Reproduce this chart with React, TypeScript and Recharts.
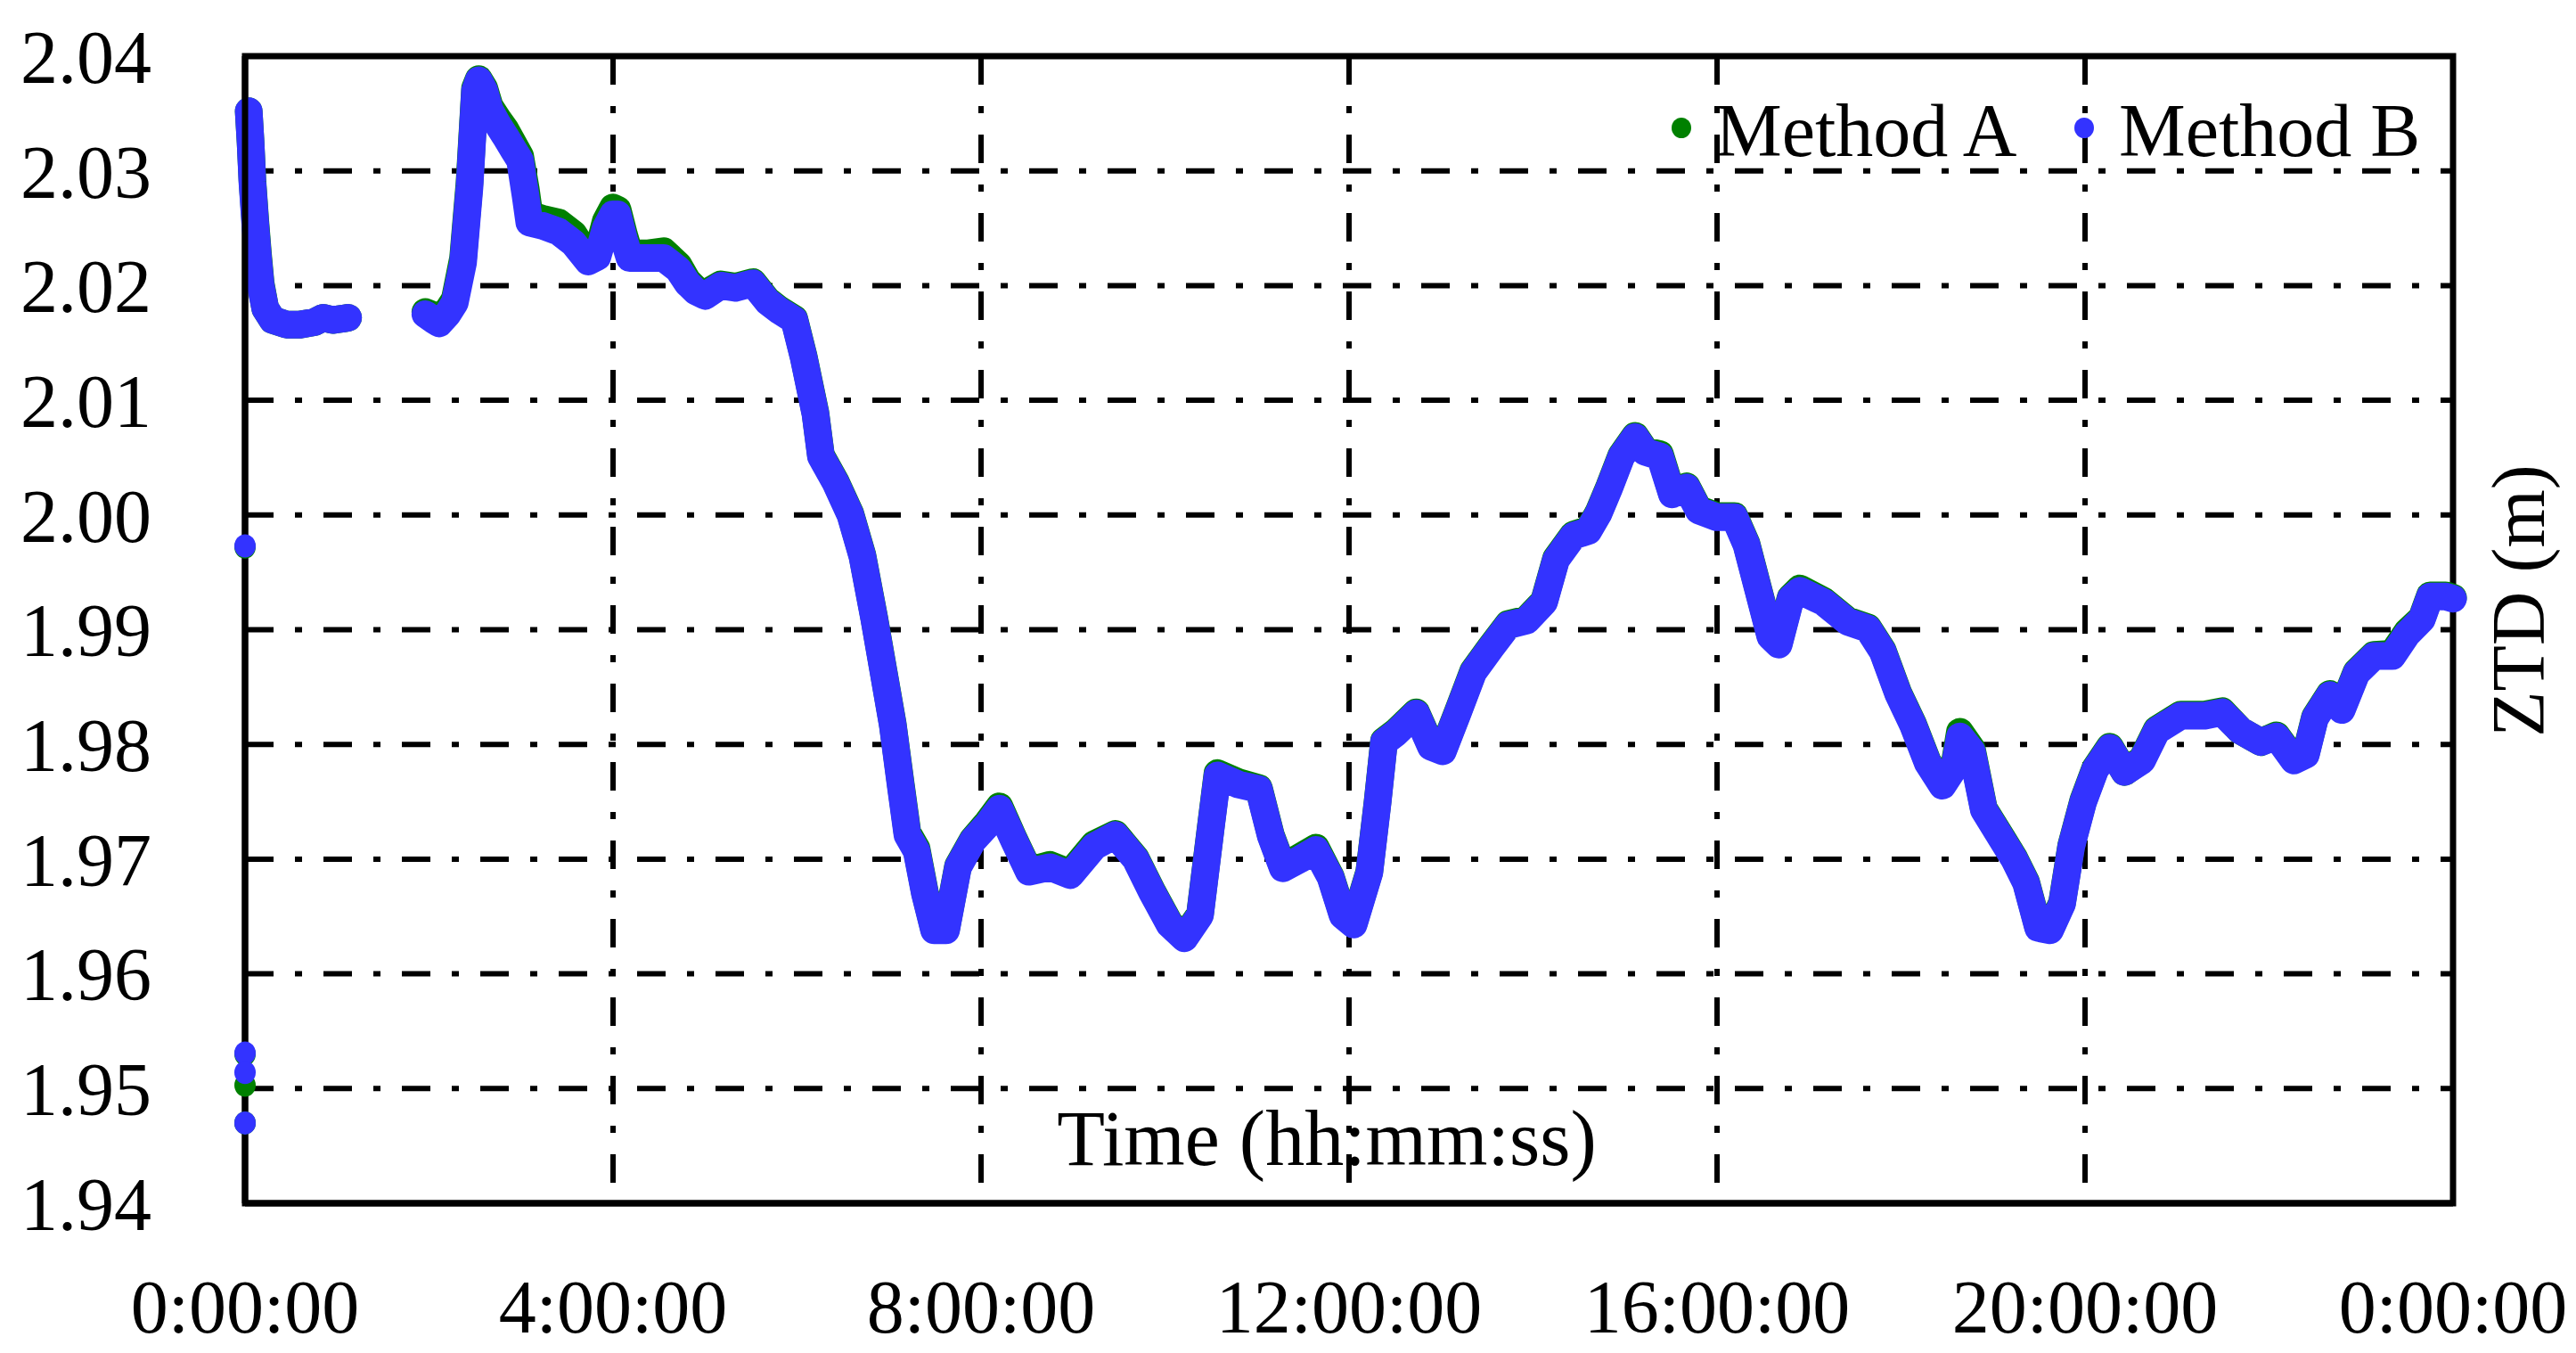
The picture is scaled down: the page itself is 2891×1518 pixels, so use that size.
import React from 'react';
import {
  ComposedChart,
  Line,
  Scatter,
  XAxis,
  YAxis,
  CartesianGrid,
  ReferenceArea,
  Legend,
  Customized,
} from 'recharts';

// time of day in hours, null rows mark the data gap
const hours = [
  0.04, 0.06, 0.08, 0.11, 0.14, 0.17, 0.22, 0.3, 0.45, 0.6, 0.75, 0.85, 0.95, 1.05, 1.12,
  1.5,
  1.96, 2.05, 2.11, 2.2, 2.28, 2.37, 2.44, 2.5, 2.54, 2.6, 2.66, 2.75, 2.83, 2.92, 2.99,
  3.05, 3.09, 3.24, 3.41, 3.57, 3.73, 3.83, 3.92, 4.0, 4.05, 4.12, 4.18, 4.37, 4.55, 4.71,
  4.81, 4.9, 5.0, 5.17, 5.33, 5.52, 5.68, 5.81, 5.97, 6.07, 6.2, 6.26, 6.42, 6.58, 6.71,
  6.84, 6.94, 7.04, 7.13, 7.2, 7.3, 7.39, 7.49, 7.62, 7.75, 7.91, 8.07, 8.2, 8.36, 8.52,
  8.75, 8.97, 9.23, 9.46, 9.68, 9.86, 10.05, 10.21, 10.38, 10.5, 10.57, 10.8, 11.02, 11.15,
  11.28, 11.47, 11.64, 11.8, 11.93, 12.05, 12.22, 12.31, 12.38, 12.51, 12.73, 12.89, 13.02,
  13.18, 13.35, 13.54, 13.73, 13.93, 14.12, 14.25, 14.44, 14.6, 14.71, 14.83, 14.96, 15.11,
  15.22, 15.38, 15.51, 15.67, 15.8, 16.0, 16.19, 16.32, 16.45, 16.58, 16.67, 16.8, 16.9,
  17.16, 17.42, 17.64, 17.8, 17.97, 18.13, 18.29, 18.45, 18.58, 18.64, 18.77, 18.9, 19.1,
  19.23, 19.36, 19.49, 19.62, 19.75, 19.85, 19.98, 20.11, 20.27, 20.43, 20.62, 20.78, 21.04,
  21.3, 21.49, 21.69, 21.91, 22.08, 22.27, 22.4, 22.5, 22.66, 22.79, 22.95, 23.14, 23.34,
  23.5, 23.66, 23.75, 23.92, 24.0,
];

const methodB = [
  2.0352, 2.0325, 2.029, 2.0255, 2.0225, 2.02, 2.018, 2.017, 2.0166, 2.0166, 2.0168, 2.0172, 2.017, 2.0171, 2.0172,
  null,
  2.0175, 2.017, 2.0167, 2.0175, 2.0185, 2.022, 2.0286, 2.037, 2.0379, 2.037, 2.0353, 2.034, 2.033, 2.0318, 2.0309,
  2.0278, 2.0255, 2.0252, 2.0247, 2.0237, 2.0221, 2.0225, 2.025, 2.0262, 2.0262, 2.024, 2.0224, 2.0224, 2.0224, 2.0214,
  2.0202, 2.0195, 2.0191, 2.02, 2.0198, 2.0202, 2.0186, 2.0178, 2.017, 2.0138, 2.0088, 2.0051, 2.0028, 2.0, 1.9964,
  1.9909, 1.9863, 1.9817, 1.9762, 1.9721, 1.9707, 1.967, 1.9638, 1.9638, 1.9693, 1.9716, 1.973, 1.9744, 1.9716, 1.9689,
  1.9693, 1.9686, 1.9711, 1.9721, 1.97, 1.9671, 1.9643, 1.9631, 1.9651, 1.9729, 1.9773, 1.9765, 1.9761, 1.972,
  1.9692, 1.97, 1.9708, 1.9684, 1.9651, 1.9643, 1.9688, 1.9749, 1.9802, 1.981, 1.9827, 1.9798, 1.9794,
  1.9827, 1.9863, 1.9884, 1.9904, 1.9908, 1.9924, 1.9961, 1.9982, 1.9986, 2.0001, 2.0024, 2.0051, 2.0068,
  2.0055, 2.0051, 2.0018, 2.0024, 2.0004, 1.9998, 1.9998, 1.9974, 1.9934, 1.9894, 1.9887, 1.9927, 1.9934,
  1.9924, 1.9907, 1.9901, 1.9881, 1.9844, 1.9817, 1.9784, 1.9764, 1.978, 1.9807, 1.9794, 1.9743, 1.9717,
  1.97, 1.9679, 1.964, 1.9638, 1.9661, 1.9711, 1.975, 1.9778, 1.9797, 1.9776, 1.9786, 1.9812, 1.9825,
  1.9825, 1.9828, 1.9812, 1.9802, 1.9807, 1.9786, 1.9791, 1.9823, 1.9843, 1.983, 1.9862, 1.9877, 1.9877,
  1.9896, 1.9909, 1.9929, 1.9929, 1.9927,
];

const methodA = [
  2.0352, 2.0325, 2.0292, 2.0258, 2.0228, 2.0202, 2.018, 2.017, 2.0166, 2.0166, 2.0168, 2.0172, 2.017, 2.0171, 2.0172,
  null,
  2.0177, 2.0174, 2.0172, 2.0178, 2.0188, 2.0224, 2.029, 2.0372, 2.038, 2.0372, 2.0356, 2.0345, 2.0336, 2.0323, 2.0313,
  2.0285, 2.0262, 2.0258, 2.0255, 2.0245, 2.0225, 2.0228, 2.0256, 2.0268, 2.0266, 2.0244, 2.0228, 2.0228, 2.023, 2.0218,
  2.0204, 2.0197, 2.0193, 2.0201, 2.0199, 2.0203, 2.0187, 2.0179, 2.0171, 2.0139, 2.0089, 2.0052, 2.0029, 2.0001, 1.9965,
  1.991, 1.9864, 1.9818, 1.9764, 1.9723, 1.9709, 1.9671, 1.9639, 1.9639, 1.9694, 1.9717, 1.9732, 1.9746, 1.9717, 1.969,
  1.9695, 1.9688, 1.9713, 1.9722, 1.9701, 1.9672, 1.9644, 1.9632, 1.9652, 1.973, 1.9775, 1.9767, 1.9762, 1.9721,
  1.9693, 1.9702, 1.971, 1.9685, 1.9652, 1.9644, 1.9689, 1.975, 1.9803, 1.9811, 1.9828, 1.9799, 1.9795,
  1.9828, 1.9864, 1.9885, 1.9905, 1.9909, 1.9925, 1.9962, 1.9983, 1.9987, 2.0002, 2.0025, 2.0052, 2.0069,
  2.0056, 2.0053, 2.0019, 2.0025, 2.0005, 1.9999, 1.9999, 1.9975, 1.9935, 1.9895, 1.9888, 1.9928, 1.9936,
  1.9925, 1.9908, 1.9902, 1.9882, 1.9845, 1.9818, 1.9785, 1.9765, 1.9782, 1.9811, 1.9796, 1.9744, 1.9718,
  1.9701, 1.968, 1.9641, 1.9639, 1.9662, 1.9712, 1.9751, 1.9779, 1.9798, 1.9776, 1.9787, 1.9813, 1.9826,
  1.9826, 1.9829, 1.9812, 1.9802, 1.9808, 1.9787, 1.9792, 1.9824, 1.9844, 1.9831, 1.9863, 1.9878, 1.9879,
  1.9898, 1.991, 1.993, 1.993, 1.9928,
];

// isolated epochs at the very start of the day
const outlierHours = [0, 0, 0, 0];
const outlierA = [1.9972, 1.953, 1.9503, 1.947];
const outlierB = [1.9973, 1.9531, 1.9514, 1.947];

const xTicks = [0, 4, 8, 12, 16, 20, 24];
const yTicks = [1.94, 1.95, 1.96, 1.97, 1.98, 1.99, 2.0, 2.01, 2.02, 2.03, 2.04];

const seriesNames = ['Method A', 'Method B'];
const colorA = '#008000';
const colorB = '#3333ff';
const font = '"Liberation Serif", "Times New Roman", serif';

const data = hours.map((t, i) => ({ t, a: methodA[i], b: methodB[i] }));
const outliersA = outlierHours.map((t, i) => ({ t, v: outlierA[i] }));
const outliersB = outlierHours.map((t, i) => ({ t, v: outlierB[i] }));

const dotShape = (color: string) => (props: any) => (
  <ellipse cx={props.cx} cy={props.cy} rx={12} ry={13} fill={color} />
);

const LegendBox = () => (
  <div style={{ position: 'relative', fontFamily: font, fontSize: 84, lineHeight: '84px', color: '#000' }}>
    <span style={{ position: 'absolute', left: 1876, top: 132, width: 22, height: 23, borderRadius: '50%', background: colorA }} />
    <span style={{ position: 'absolute', left: 1925, top: 105, whiteSpace: 'nowrap' }}>{seriesNames[0]}</span>
    <span style={{ position: 'absolute', left: 2328, top: 132, width: 22, height: 23, borderRadius: '50%', background: colorB }} />
    <span style={{ position: 'absolute', left: 2378, top: 105, whiteSpace: 'nowrap' }}>{seriesNames[1]}</span>
  </div>
);

const AxisTitles = () => (
  <g fontFamily={font} fill="#000">
    <text x={1489} y={1307} fontSize={88} textAnchor="middle">Time (hh:mm:ss)</text>
    <text x={2855} y={674} fontSize={84} textAnchor="middle" transform="rotate(-90 2855 674)">ZTD (m)</text>
  </g>
);

const App: React.FC = () => {
  return (
    <div style={{ position: 'absolute', left: 0, top: 0, background: '#fff' }}>
      <ComposedChart
        width={2891}
        height={1518}
        data={data}
        margin={{ top: 63, right: 138, bottom: 0, left: 0 }}
      >
        <ReferenceArea x1={0} x2={24} y1={1.94} y2={2.04} fill="none" stroke="#000" strokeWidth={7} ifOverflow="visible" />
        <CartesianGrid stroke="#000" strokeWidth={6} strokeDasharray="32 24 8 24" />
        <XAxis
          dataKey="t"
          type="number"
          domain={[0, 24]}
          ticks={xTicks}
          tickFormatter={(h: number) => `${h % 24}:00:00`}
          height={168}
          tickSize={0}
          tickMargin={85}
          axisLine={{ stroke: '#000', strokeWidth: 7 }}
          tick={{ fill: '#000', fontSize: 84, fontFamily: font }}
          interval={0}
        />
        <YAxis
          type="number"
          domain={[1.94, 2.04]}
          ticks={yTicks}
          tickFormatter={(v: number) => v.toFixed(2)}
          width={275}
          tickSize={0}
          tickMargin={105}
          axisLine={{ stroke: '#000', strokeWidth: 7 }}
          tick={{ fill: '#000', fontSize: 84, fontFamily: font }}
          interval={0}
        />
        <Line
          dataKey="a"
          name={seriesNames[0]}
          stroke={colorA}
          strokeWidth={31}
          strokeLinecap="round"
          strokeLinejoin="round"
          dot={false}
          activeDot={false}
          connectNulls={false}
          isAnimationActive={false}
        />
        <Line
          dataKey="b"
          name={seriesNames[1]}
          stroke={colorB}
          strokeWidth={31}
          strokeLinecap="round"
          strokeLinejoin="round"
          dot={false}
          activeDot={false}
          connectNulls={false}
          isAnimationActive={false}
        />
        <Scatter data={outliersA} dataKey="v" shape={dotShape(colorA)} isAnimationActive={false} />
        <Scatter data={outliersB} dataKey="v" shape={dotShape(colorB)} isAnimationActive={false} />
        <Legend
          layout="horizontal"
          verticalAlign="middle"
          content={() => <LegendBox />}
          wrapperStyle={{ left: 0, top: 0, width: 0, height: 0 }}
        />
        <Customized component={AxisTitles} />
      </ComposedChart>
    </div>
  );
};

export default App;
